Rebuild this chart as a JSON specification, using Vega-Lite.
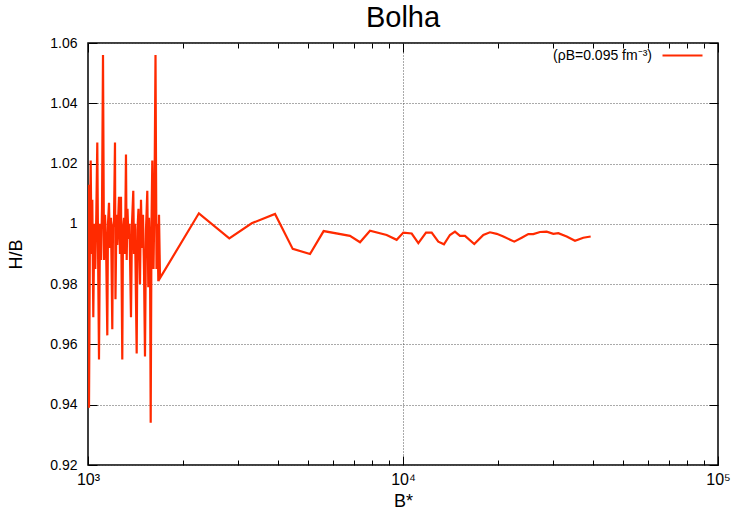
{
  "$schema": "https://vega.github.io/schema/vega-lite/v6.json",
  "width": 630,
  "height": 422,
  "autosize": {"type": "none"},
  "padding": {"left": 88, "top": 43, "right": 18, "bottom": 53},
  "background": "white",
  "title": {"text": "Bolha", "font": "Liberation Sans", "fontSize": 29, "fontWeight": "normal", "anchor": "middle", "offset": 1, "color": "black"},
  "config": {"view": {"stroke": "black", "strokeWidth": 1.5}, "font": "Liberation Sans"},
  "data": {"values": [
    {"B": 1000, "HB": 0.985}, {"B": 1003.7, "HB": 1.013}, {"B": 1007.3, "HB": 0.939}, {"B": 1014.7, "HB": 1.000},
    {"B": 1019.9, "HB": 1.021}, {"B": 1025.9, "HB": 0.990}, {"B": 1031.9, "HB": 1.008}, {"B": 1039.5, "HB": 0.969},
    {"B": 1047.1, "HB": 1.000}, {"B": 1054.8, "HB": 0.985}, {"B": 1062.5, "HB": 1.003}, {"B": 1070.3, "HB": 1.027},
    {"B": 1077.4, "HB": 0.985}, {"B": 1083.7, "HB": 0.955}, {"B": 1091.7, "HB": 1.000}, {"B": 1099.7, "HB": 0.988},
    {"B": 1107.8, "HB": 1.005}, {"B": 1115.9, "HB": 1.056}, {"B": 1124.0, "HB": 0.988}, {"B": 1132.3, "HB": 1.003},
    {"B": 1140.6, "HB": 0.995}, {"B": 1151.5, "HB": 0.963}, {"B": 1157.4, "HB": 1.000}, {"B": 1165.9, "HB": 1.007},
    {"B": 1174.4, "HB": 0.992}, {"B": 1183.0, "HB": 1.002}, {"B": 1194.3, "HB": 0.965}, {"B": 1200.4, "HB": 0.999},
    {"B": 1209.2, "HB": 1.001}, {"B": 1218.1, "HB": 1.027}, {"B": 1222.5, "HB": 0.975}, {"B": 1231.5, "HB": 1.003},
    {"B": 1238.7, "HB": 0.993}, {"B": 1245.1, "HB": 1.000}, {"B": 1254.2, "HB": 1.009}, {"B": 1263.4, "HB": 0.990},
    {"B": 1272.6, "HB": 1.009}, {"B": 1284.8, "HB": 0.955}, {"B": 1291.4, "HB": 0.998}, {"B": 1300.9, "HB": 1.002},
    {"B": 1310.4, "HB": 0.990}, {"B": 1320.0, "HB": 1.023}, {"B": 1326.8, "HB": 0.988}, {"B": 1334.5, "HB": 1.005},
    {"B": 1344.4, "HB": 0.995}, {"B": 1354.2, "HB": 1.000}, {"B": 1369.2, "HB": 0.969}, {"B": 1379.2, "HB": 1.000},
    {"B": 1392.4, "HB": 1.011}, {"B": 1399.5, "HB": 0.990}, {"B": 1409.8, "HB": 1.000}, {"B": 1427.4, "HB": 0.957},
    {"B": 1435.8, "HB": 0.998}, {"B": 1446.4, "HB": 1.005}, {"B": 1462.3, "HB": 0.980}, {"B": 1473.1, "HB": 1.008},
    {"B": 1483.9, "HB": 0.992}, {"B": 1494.8, "HB": 1.003}, {"B": 1505.8, "HB": 0.985}, {"B": 1516.8, "HB": 0.956},
    {"B": 1528.0, "HB": 0.998}, {"B": 1542.6, "HB": 1.011}, {"B": 1553.9, "HB": 0.979}, {"B": 1561.9, "HB": 1.002},
    {"B": 1573.4, "HB": 0.990}, {"B": 1581.4, "HB": 0.934}, {"B": 1590.7, "HB": 1.000}, {"B": 1600.1, "HB": 1.021},
    {"B": 1614.2, "HB": 0.985}, {"B": 1626.1, "HB": 1.010}, {"B": 1638.0, "HB": 1.056}, {"B": 1650.1, "HB": 0.985},
    {"B": 1662.2, "HB": 1.000}, {"B": 1671.9, "HB": 0.981}, {"B": 1680.5, "HB": 1.003}, {"B": 1692.8, "HB": 0.982},
    {"B": 2249, "HB": 1.0035}, {"B": 2809, "HB": 0.9952}, {"B": 3309, "HB": 1.0002}, {"B": 3924, "HB": 1.0033},
    {"B": 4466, "HB": 0.9917}, {"B": 5068, "HB": 0.9900}, {"B": 5598, "HB": 0.9976}, {"B": 6786, "HB": 0.9960},
    {"B": 7304, "HB": 0.9939}, {"B": 7857, "HB": 0.9977}, {"B": 8873, "HB": 0.9963}, {"B": 9548, "HB": 0.9947},
    {"B": 10024, "HB": 0.9971}, {"B": 10656, "HB": 0.9968}, {"B": 11187, "HB": 0.9936}, {"B": 11832, "HB": 0.9971},
    {"B": 12333, "HB": 0.9971}, {"B": 12945, "HB": 0.9941}, {"B": 13490, "HB": 0.9932}, {"B": 14093, "HB": 0.9963},
    {"B": 14621, "HB": 0.9974}, {"B": 15168, "HB": 0.9960}, {"B": 15734, "HB": 0.9960}, {"B": 16838, "HB": 0.9933},
    {"B": 17988, "HB": 0.9963}, {"B": 18880, "HB": 0.9972}, {"B": 19838, "HB": 0.9967}, {"B": 20827, "HB": 0.9958},
    {"B": 22557, "HB": 0.9941}, {"B": 23817, "HB": 0.9954}, {"B": 24991, "HB": 0.9966}, {"B": 25924, "HB": 0.9966},
    {"B": 27226, "HB": 0.9973}, {"B": 28581, "HB": 0.9974}, {"B": 30011, "HB": 0.9967}, {"B": 31125, "HB": 0.9969},
    {"B": 33085, "HB": 0.9958}, {"B": 35160, "HB": 0.9944}, {"B": 37355, "HB": 0.9954}, {"B": 39427, "HB": 0.9958}
  ]},
  "layer": [
    {
      "mark": {"type": "line", "strokeWidth": 2.2, "clip": true},
      "encoding": {
        "x": {
          "field": "B", "type": "quantitative",
          "scale": {"type": "log", "domain": [1000, 100000]},
          "axis": {
            "orient": "bottom",
            "values": [1000, 2000, 3000, 4000, 5000, 6000, 7000, 8000, 9000, 10000, 20000, 30000, 40000, 50000, 60000, 70000, 80000, 90000, 100000],
            "labelExpr": "datum.value == 1000 ? '10³' : datum.value == 10000 ? '10⁴' : datum.value == 100000 ? '10⁵' : ''",
            "labelOverlap": false, "labelFlush": false,
            "labelFontSize": 16, "labelColor": "black", "labelPadding": 15,
            "domain": false,
            "tickColor": "black", "tickWidth": 1,
            "tickSize": {"condition": {"test": "datum.value == 1000 || datum.value == 10000 || datum.value == 100000", "value": -9}, "value": -5},
            "grid": true, "gridColor": "#555", "gridDash": [1, 2], "gridWidth": 1,
            "gridOpacity": {"condition": {"test": "datum.value == 10000", "value": 1}, "value": 0},
            "title": "B*", "titleFontSize": 18, "titleFontWeight": "normal", "titleColor": "black", "titlePadding": 1
          }
        },
        "y": {
          "field": "HB", "type": "quantitative",
          "scale": {"domain": [0.92, 1.06], "nice": false, "zero": false},
          "axis": {
            "orient": "left",
            "values": [0.92, 0.94, 0.96, 0.98, 1.0, 1.02, 1.04, 1.06],
            "format": ".2~f",
            "labelFontSize": 14, "labelColor": "black", "labelPadding": 20,
            "domain": false, "tickColor": "black", "tickSize": -9,
            "grid": true, "gridColor": "#555", "gridDash": [1, 2], "gridWidth": 1,
            "title": "H/B", "titleFontSize": 18, "titleFontWeight": "normal", "titleColor": "black", "titlePadding": 24
          }
        },
        "color": {
          "datum": "(ρB=0.095 fm⁻³)",
          "type": "nominal",
          "scale": {"range": ["#ff2a00"]},
          "legend": {
            "orient": "none", "legendX": 522, "legendY": -9, "title": null,
            "symbolType": "stroke", "symbolSize": 1600, "symbolStrokeWidth": 2.2,
            "labelAlign": "right", "labelOffset": -52, "symbolOffset": 51,
            "labelFontSize": 14, "labelColor": "black", "labelFont": "Liberation Sans"
          }
        }
      }
    },
    {
      "mark": {"type": "line", "opacity": 0},
      "encoding": {
        "x": {
          "field": "B", "type": "quantitative",
          "scale": {"type": "log", "domain": [1000, 100000]},
          "axis": {
            "orient": "top",
            "values": [1000, 2000, 3000, 4000, 5000, 6000, 7000, 8000, 9000, 10000, 20000, 30000, 40000, 50000, 60000, 70000, 80000, 90000, 100000],
            "labels": false, "domain": false, "grid": false, "title": null,
            "tickColor": "black",
            "tickSize": {"condition": {"test": "datum.value == 1000 || datum.value == 10000 || datum.value == 100000", "value": -9}, "value": -5}
          }
        },
        "y": {
          "field": "HB", "type": "quantitative",
          "scale": {"domain": [0.92, 1.06], "nice": false, "zero": false},
          "axis": {
            "orient": "right",
            "values": [0.92, 0.94, 0.96, 0.98, 1.0, 1.02, 1.04, 1.06],
            "labels": false, "domain": false, "grid": false, "title": null,
            "tickColor": "black", "tickSize": -9
          }
        }
      }
    }
  ],
  "resolve": {"axis": {"x": "independent", "y": "independent"}}
}
